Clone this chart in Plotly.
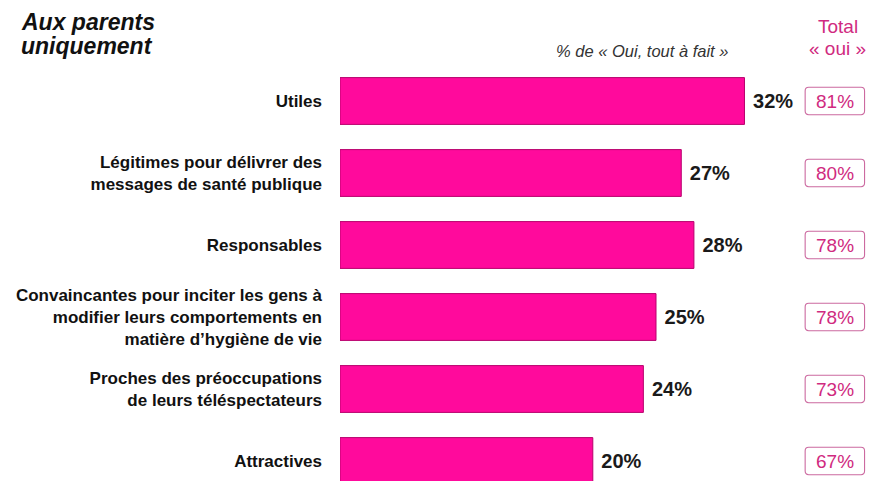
import plotly.graph_objects as go

# Survey items (top to bottom) and their scores
categories = [
    "Utiles",
    "Légitimes pour délivrer des<br>messages de santé publique",
    "Responsables",
    "Convaincantes pour inciter les gens à<br>modifier leurs comportements en<br>matière d’hygiène de vie",
    "Proches des préoccupations<br>de leurs téléspectateurs",
    "Attractives",
]
tout_a_fait = [32, 27, 28, 25, 24, 20]   # % de « Oui, tout à fait »
total_oui = [81, 80, 78, 78, 73, 67]     # Total « oui »

W, H = 872, 481
PINK = "#ff0a9c"
PINK_EDGE = "#b8006c"
TOTAL_PINK = "#d02a80"
FONT = "Liberation Sans, Arial, sans-serif"

pos = list(range(len(categories)))

fig = go.Figure()
fig.add_trace(go.Bar(
    x=tout_a_fait,
    y=pos,
    orientation="h",
    width=0.65,
    marker=dict(color=PINK, line=dict(color=PINK_EDGE, width=1)),
    text=[f" {v}%" for v in tout_a_fait],
    textposition="outside",
    textfont=dict(family=FONT, size=20, color="#1a1a1a", weight="bold"),
    cliponaxis=False,
    hoverinfo="skip",
))

# Rounded boxes holding the "Total « oui »" figures (drawn in data coords)
x0, x1 = 36.8, 41.5
hh = 0.19
rx, ry = 0.28, 0.05
for i, t in enumerate(total_oui):
    yc = i
    ya, yb = yc - hh, yc + hh
    path = (
        f"M{x0+rx},{ya} L{x1-rx},{ya} Q{x1},{ya} {x1},{ya+ry} "
        f"L{x1},{yb-ry} Q{x1},{yb} {x1-rx},{yb} "
        f"L{x0+rx},{yb} Q{x0},{yb} {x0},{yb-ry} "
        f"L{x0},{ya+ry} Q{x0},{ya} {x0+rx},{ya} Z"
    )
    fig.add_shape(type="path", path=path, xref="x", yref="y",
                  line=dict(color="#cc6aa0", width=1.1), fillcolor="white")
    fig.add_annotation(x=(x0 + x1) / 2, y=yc, xref="x", yref="y",
                       text=f"{t}%", showarrow=False,
                       font=dict(family=FONT, size=19, color=TOTAL_PINK))

# Headers
fig.add_annotation(x=19 / W, y=1 - 22 / H, xref="paper", yref="paper",
                   text="<b><i>Aux parents</i></b>", showarrow=False,
                   xanchor="left", yanchor="middle",
                   font=dict(family=FONT, size=23, color="#111111"))
fig.add_annotation(x=19 / W, y=1 - 46 / H, xref="paper", yref="paper",
                   text="<b><i>uniquement</i></b>", showarrow=False,
                   xanchor="left", yanchor="middle",
                   font=dict(family=FONT, size=23, color="#111111"))
fig.add_annotation(x=642 / W, y=1 - 51 / H, xref="paper", yref="paper",
                   text="<i>% de « Oui, tout à fait »</i>", showarrow=False,
                   xanchor="center", yanchor="middle",
                   font=dict(family=FONT, size=16.5, color="#333333"))
fig.add_annotation(x=838 / W, y=1 - 26 / H, xref="paper", yref="paper",
                   text="Total", showarrow=False,
                   xanchor="center", yanchor="middle",
                   font=dict(family=FONT, size=19, color=TOTAL_PINK))
fig.add_annotation(x=837 / W, y=1 - 49 / H, xref="paper", yref="paper",
                   text="« oui »", showarrow=False,
                   xanchor="center", yanchor="middle",
                   font=dict(family=FONT, size=19, color=TOTAL_PINK))

px_per_unit = 12.64
fig.update_layout(
    width=W, height=H,
    margin=dict(l=0, r=0, t=0, b=0),
    paper_bgcolor="white", plot_bgcolor="white",
    showlegend=False,
    xaxis=dict(domain=[340 / W, 1], range=[0, (W - 340) / px_per_unit],
               visible=False, fixedrange=True),
    yaxis=dict(range=[(H - 101) / 72, -101 / 72],
               tickmode="array", tickvals=pos, ticktext=categories,
               showgrid=False, zeroline=False, showline=False,
               ticks="", ticklabelstandoff=17,
               tickfont=dict(family=FONT, size=17, color="#111111", weight="bold"),
               fixedrange=True),
)

fig.write_html("out.html")
